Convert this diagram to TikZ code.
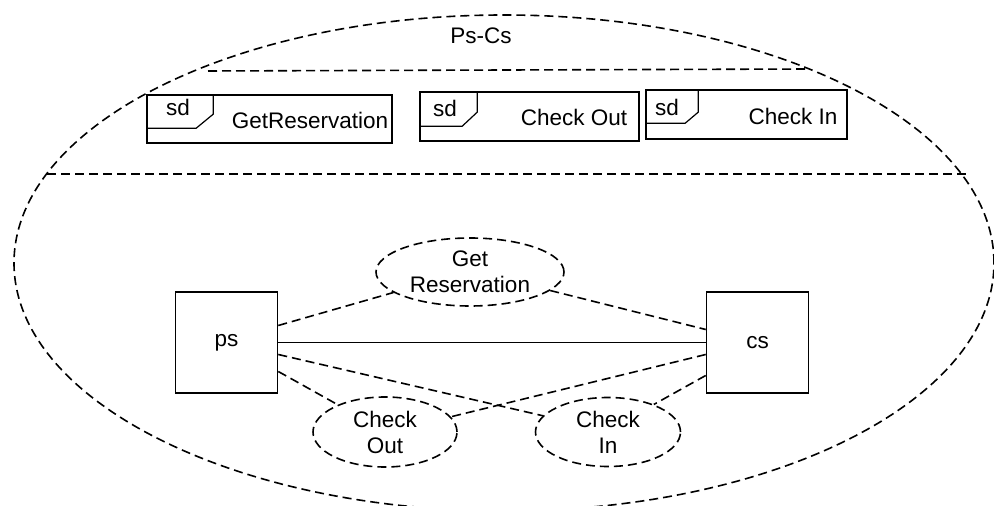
\documentclass[tikz,border=0pt]{standalone}
\usepackage{fontspec}
\setmainfont{Liberation Sans}
\usetikzlibrary{shapes.geometric}
\begin{document}
\begin{tikzpicture}[x=1pt,y=1pt,line width=1.6pt,font=\fontsize{22.5}{26}\selectfont,
  dashline/.style={dash pattern=on 9pt off 5pt},
  frame/.style={rectangle,draw,inner sep=0pt},
  part/.style={rectangle,draw,inner sep=0pt,minimum width=102,minimum height=101},
  usecase/.style={ellipse,draw,dashline,inner sep=0pt,align=center},
  plain/.style={inner sep=0pt}]
	\useasboundingbox (0,0) rectangle (994,506);
	\node[ellipse,draw,dashline,minimum width=980,minimum height=496] (collab) at (504,243) {};
	\node[plain] (title) at (481,470) {Ps-Cs};
	\coordinate (topl) at (208,435);
	\coordinate (topr) at (808,437);
	\coordinate (midl) at (47,332);
	\coordinate (midr) at (968,332);
	\draw[dashline] (topl) -- (topr);
	\draw[dashline] (midl) -- (midr);
	\node[frame,minimum width=245,minimum height=48] (f1) at (269.5,387) {};
	\node[frame,minimum width=219,minimum height=49] (f2) at (529.5,389.5) {};
	\node[frame,minimum width=201,minimum height=49] (f3) at (746.5,391.5) {};
	\draw[line width=1.2pt] (f1.north west) ++(67,0) -- ++(0,-20) -- ++(-17,-14) -- ++(-50,0);
	\draw[line width=1.2pt] (f2.north west) ++(58,0) -- ++(0,-21) -- ++(-15,-14) -- ++(-43,0);
	\draw[line width=1.2pt] (f3.north west) ++(53,0) -- ++(0,-23) -- ++(-13,-11) -- ++(-40,0);
	\node[plain] (sd1) at (178,399) {sd};
	\node[plain] (sd2) at (445,398) {sd};
	\node[plain] (sd3) at (667,399) {sd};
	\node[plain] (l1) at (310,386) {GetReservation};
	\node[plain] (l2) at (574,389) {Check Out};
	\node[plain] (l3) at (793,390) {Check In};
	\node[part] (ps) at (226.5,163.5) {ps};
	\node[part] (cs) at (757.5,163.5) {cs};
	\node[usecase,minimum width=188,minimum height=68] (getres) at (470,234) {Get\\Reservation};
	\node[usecase,minimum width=144,minimum height=70] (chkout) at (385,74) {Check\\Out};
	\node[usecase,minimum width=145,minimum height=69] (chkin) at (608,74) {Check\\In};
	\draw (ps) -- (cs);
	\draw[dashline] ([yshift=17pt]ps.east) -- (getres.195);
	\draw[dashline] (getres.347) -- ([yshift=13pt]cs.west);
	\draw[dashline] ([yshift=-12pt]ps.east) -- (chkin.166);
	\draw[dashline] ([yshift=-29pt]ps.east) -- (chkout.150);
	\draw[dashline] ([yshift=-12pt]cs.west) -- (chkout.13);
	\draw[dashline] ([yshift=-33pt]cs.west) -- (chkin.31);
\end{tikzpicture}
\end{document}
